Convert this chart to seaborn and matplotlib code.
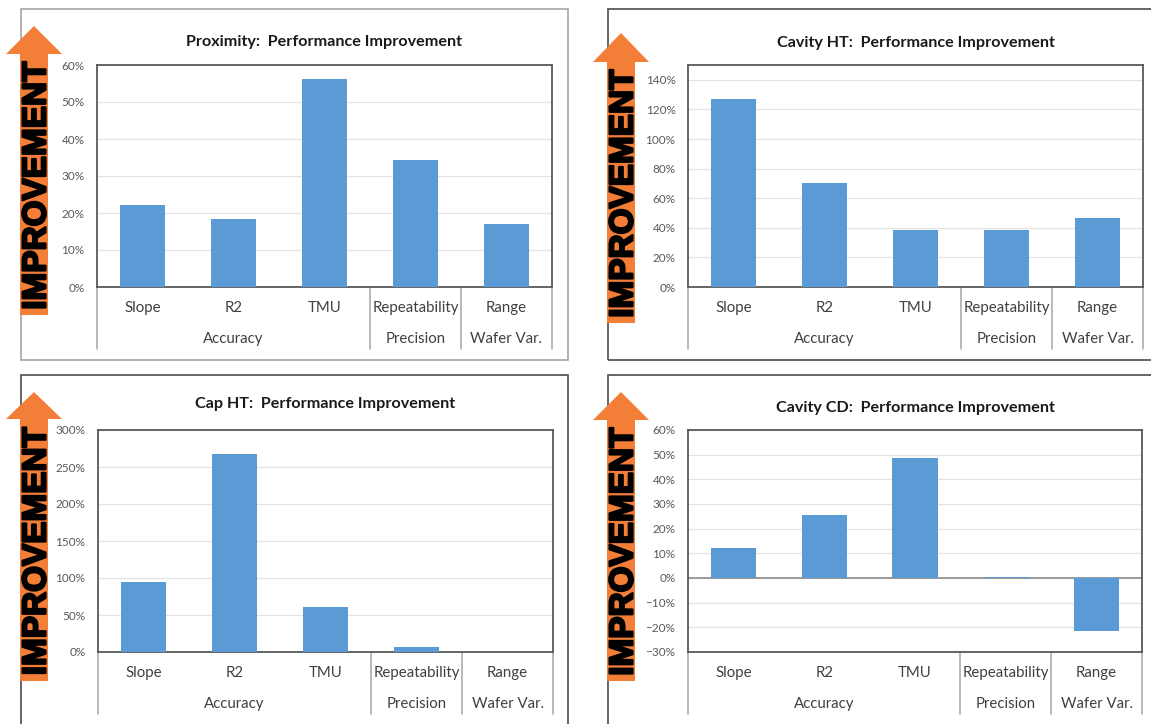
import numpy as np
import pandas as pd
import matplotlib
matplotlib.use('Agg')
import matplotlib.pyplot as plt
import matplotlib.ticker as mtick
import matplotlib.patheffects as pe
from matplotlib.patches import Polygon, Rectangle
import seaborn as sns

# Datos
metrics = ['Slope', 'R2', 'TMU', 'Repeatability', 'Range']
group_names = ['Accuracy', 'Precision', 'Wafer Var.']
group_spans = [(0, 2), (3, 3), (4, 4)]

proximity = [0.222, 0.184, 0.561, 0.342, 0.170]
cavity_ht = [1.269, 0.700, 0.382, 0.388, 0.463]
cap_ht = [0.947, 2.68, 0.614, 0.063, 0.0]
cavity_cd = [0.122, 0.255, 0.485, 0.006, -0.215]

titles = ['Proximity:  Performance Improvement', 'Cavity HT:  Performance Improvement',
          'Cap HT:  Performance Improvement', 'Cavity CD:  Performance Improvement']

W, H = 1151, 724
BAR = '#5B9BD5'
ORANGE = '#F27E38'

sns.set_theme(style='white')
plt.rcParams['font.family'] = ['Lato', 'DejaVu Sans']

fig = plt.figure(figsize=(W / 100, H / 100), dpi=100)


def frac(x, y):
    return x / W, 1 - y / H


def panel_box(x0, y0, x1, y1, color):
    fx, fy = frac(x0, y1)
    fig.patches.append(Rectangle((fx, fy), (x1 - x0) / W, (y1 - y0) / H, transform=fig.transFigure,
                                 fill=False, edgecolor=color, linewidth=1.2, zorder=0))


def improvement_arrow(cx, tip, base, bottom):
    pts = [(cx, tip), (cx + 28, base), (cx + 14, base), (cx + 14, bottom),
           (cx - 14, bottom), (cx - 14, base), (cx - 28, base)]
    fig.patches.append(Polygon([frac(x, y) for x, y in pts], closed=True, transform=fig.transFigure,
                               facecolor=ORANGE, edgecolor='none', zorder=1))
    tx, ty = frac(cx + 3, (base + bottom) / 2 + 1)
    # texto grueso tipo "Arial Black": negrita + trazo
    fig.text(tx, ty, 'IMPROVEMENT', rotation=90, ha='center', va='center', fontsize=24,
             fontweight='bold', family='Liberation Sans', color='black', zorder=2,
             path_effects=[pe.withStroke(linewidth=1.6, foreground='black')])


def bar_panel(rect, values, title, ylim, step, title_gap):
    left, top, right, bottom = rect
    fx, fy = frac(left, bottom)
    ax = fig.add_axes([fx, fy, (right - left) / W, (bottom - top) / H])
    df = pd.DataFrame({'metric': metrics, 'value': values})
    sns.barplot(data=df, x='metric', y='value', order=metrics, color=BAR, saturation=1,
                width=0.5, linewidth=0, ax=ax, zorder=3)
    ax.set_ylim(*ylim)
    ax.set_xlim(-0.5, len(metrics) - 0.5)
    ax.yaxis.set_major_locator(mtick.MultipleLocator(step))
    ax.yaxis.set_major_formatter(mtick.PercentFormatter(1.0, decimals=0))
    ax.grid(axis='y', color='#E3E3E3', linewidth=0.9, zorder=0)
    ax.set_axisbelow(True)
    ax.set_xlabel('')
    ax.set_ylabel('')
    ax.set_xticks([])
    ax.tick_params(axis='y', length=0, pad=9, labelsize=8.5, labelcolor='#595959')
    for s in ax.spines.values():
        s.set_color('#595959')
        s.set_linewidth(1.3)
    if ylim[0] < 0:
        # linea del cero por debajo de las barras
        ax.axhline(0, color='#8C8C8C', linewidth=1.2, zorder=2)

    h = bottom - top
    trans = ax.get_xaxis_transform()
    # etiquetas de categoria en dos niveles, como el eje de Excel
    for i, m in enumerate(metrics):
        ax.text(i, -21 / h, m, transform=trans, ha='center', va='center', fontsize=10.8, color='#404040')
    for name, (a, b) in zip(group_names, group_spans):
        ax.text((a + b) / 2, -52 / h, name, transform=trans, ha='center', va='center',
                fontsize=10.8, color='#404040')
    for xs in [-0.5, 2.5, 3.5, 4.5]:
        ax.plot([xs, xs], [0, -62 / h], transform=trans, color='#A6A6A6', linewidth=1.1, clip_on=False)
    ax.text(0.5, 1 + title_gap / h, title, transform=ax.transAxes, ha='center', va='center',
            fontsize=11.6, fontweight='bold', color='#1A1A1A')
    return ax


# marcos de cada grafico
panel_box(21, 9, 568, 360, '#A6A6A6')
panel_box(608, 9, 1170, 360, '#4D4D4D')
panel_box(21, 375, 568, 740, '#4D4D4D')
panel_box(608, 375, 1170, 740, '#4D4D4D')

bar_panel((97, 65, 552, 287), proximity, titles[0], (0, 0.6), 0.1, 23)
bar_panel((688, 65, 1143, 287), cavity_ht, titles[1], (0, 1.5), 0.2, 22)
bar_panel((98, 430, 553, 652), cap_ht, titles[2], (0, 3.0), 0.5, 26)
bar_panel((688, 430, 1142, 652), cavity_cd, titles[3], (-0.3, 0.6), 0.1, 22)

improvement_arrow(34, 26, 54, 315)
improvement_arrow(621, 33, 62, 323)
improvement_arrow(34, 392, 419, 681)
improvement_arrow(621, 392, 420, 681)

plt.savefig('out.png', dpi=100)
